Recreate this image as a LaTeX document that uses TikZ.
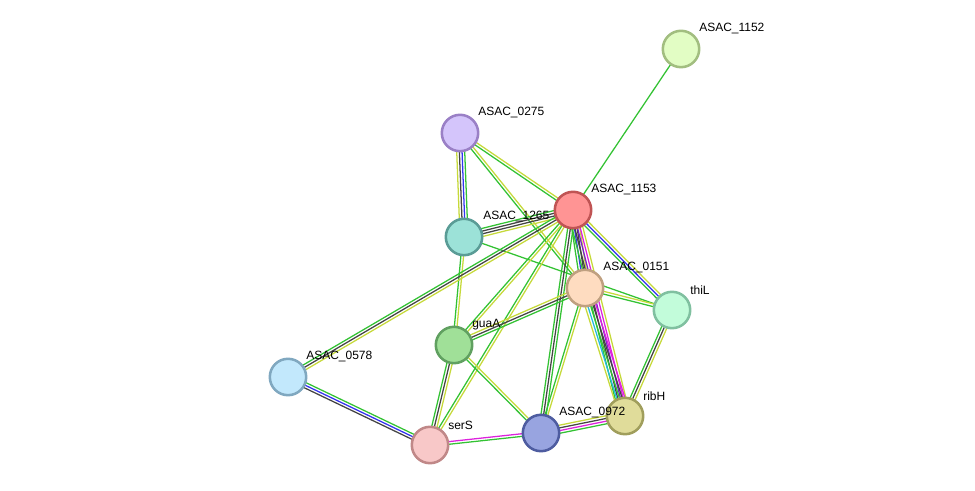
\documentclass[tikz,border=0pt]{standalone}
\usepackage{fontspec}
\setmainfont{Liberation Sans}
\usetikzlibrary{calc,backgrounds}
\definecolor{eg}{HTML}{33C233}
\definecolor{ey}{HTML}{C6D93A}
\definecolor{ek}{HTML}{444444}
\definecolor{eb}{HTML}{3333F0}
\definecolor{em}{HTML}{DD22DD}
\definecolor{ep}{HTML}{7722CC}
\definecolor{ec}{HTML}{22BBDD}
\definecolor{f1152}{HTML}{E2FDC4}\definecolor{d1152}{HTML}{A2BE80}
\definecolor{f0275}{HTML}{D4C5FB}\definecolor{d0275}{HTML}{9A80C6}
\definecolor{f1153}{HTML}{FF9494}\definecolor{d1153}{HTML}{C05454}
\definecolor{f1265}{HTML}{9CE2D8}\definecolor{d1265}{HTML}{5A9C96}
\definecolor{f0151}{HTML}{FEDCC0}\definecolor{d0151}{HTML}{BFA080}
\definecolor{fthiL}{HTML}{C2FCDA}\definecolor{dthiL}{HTML}{80C0A0}
\definecolor{fguaA}{HTML}{A0E098}\definecolor{dguaA}{HTML}{60A060}
\definecolor{f0578}{HTML}{C2E8FC}\definecolor{d0578}{HTML}{80A8C0}
\definecolor{fserS}{HTML}{F8C8C8}\definecolor{dserS}{HTML}{C08888}
\definecolor{f0972}{HTML}{98A4E0}\definecolor{d0972}{HTML}{4E5CA0}
\definecolor{fribH}{HTML}{E0DC9A}\definecolor{dribH}{HTML}{A09E5C}
\newcommand{\edg}[4]{%
  \foreach \cc [count=\ii] in {#4} {%
    \pgfmathsetmacro\off{(\ii-(#3+1)/2)*2.0}%
    \draw[\cc, line width=0.95pt] ($(#1)!\off pt!90:(#2)$) -- ($(#2)!\off pt!-90:(#1)$);
  }}
\tikzset{
  prot/.style={circle, minimum size=27.3pt, inner sep=0pt, line width=1.9pt, fill=f#1, draw=d#1},
  lbl/.style={anchor=west, inner sep=0pt, font=\fontsize{9}{10}\selectfont, text=black}
}
\begin{document}
\begin{tikzpicture}[x=0.75pt,y=-0.75pt]
\useasboundingbox (0,0) rectangle (975,491);
\node[prot=1152] (n1152) at (681,49) {};
\node[prot=0275] (n0275) at (460,133) {};
\node[prot=1153] (n1153) at (573,210) {};
\node[prot=1265] (n1265) at (464,237) {};
\node[prot=0151] (n0151) at (585,288) {};
\node[prot=thiL] (thiL) at (672,310) {};
\node[prot=guaA] (guaA) at (454,345) {};
\node[prot=0578] (n0578) at (288,377) {};
\node[prot=serS] (serS) at (430,445) {};
\node[prot=0972] (n0972) at (541,433) {};
\node[prot=ribH] (ribH) at (625,416) {};
\begin{scope}[on background layer]
\edg{n1152}{n1153}{1}{eg}
\edg{n0275}{n1265}{4}{ey,ek,eb,eg}
\edg{n0275}{n1153}{2}{eg,ey}
\edg{n0275}{n0151}{2}{eg,ey}
\edg{n1265}{n1153}{4}{ey,ek,ek,eg}
\edg{n1265}{thiL}{1}{eg}
\edg{n1265}{guaA}{2}{eg,ey}
\edg{n1153}{n0151}{4}{eg,eb,ek,ey}
\edg{n1153}{thiL}{3}{eg,eb,ey}
\edg{n1153}{ribH}{5}{eg,ek,ep,em,ey}
\edg{n1153}{n0972}{3}{eg,ek,eg}
\edg{n1153}{serS}{2}{eg,ey}
\edg{n1153}{guaA}{2}{eg,ey}
\edg{n1153}{n0578}{3}{eg,ek,ey}
\edg{n0151}{guaA}{3}{ey,ek,eg}
\edg{n0151}{n0972}{2}{eg,ey}
\edg{n0151}{ribH}{5}{ey,ec,eg,ek,em}
\edg{n0151}{thiL}{2}{eg,ey}
\edg{guaA}{serS}{3}{eg,ek,ey}
\edg{guaA}{n0972}{2}{eg,ey}
\edg{n0578}{serS}{3}{ek,eb,eg}
\edg{serS}{n0972}{2}{eg,em}
\edg{n0972}{ribH}{4}{eg,em,ek,ey}
\edg{thiL}{ribH}{3}{eg,ek,ey}
\end{scope}
\node[lbl] (l1152) at (699,29) {ASAC\_1152};
\node[lbl] (l0275) at (478,113) {ASAC\_0275};
\node[lbl] (l1153) at (591,190) {ASAC\_1153};
\node[lbl] (l1265) at (483,217) {ASAC\_1265};
\node[lbl] (l0151) at (603,268) {ASAC\_0151};
\node[lbl] (lthiL) at (690,290) {thiL};
\node[lbl] (lguaA) at (472,325) {guaA};
\node[lbl] (l0578) at (306,357) {ASAC\_0578};
\node[lbl] (lserS) at (448,425) {serS};
\node[lbl] (l0972) at (559,413) {ASAC\_0972};
\node[lbl] (lribH) at (643,396) {ribH};
\end{tikzpicture}
\end{document}
